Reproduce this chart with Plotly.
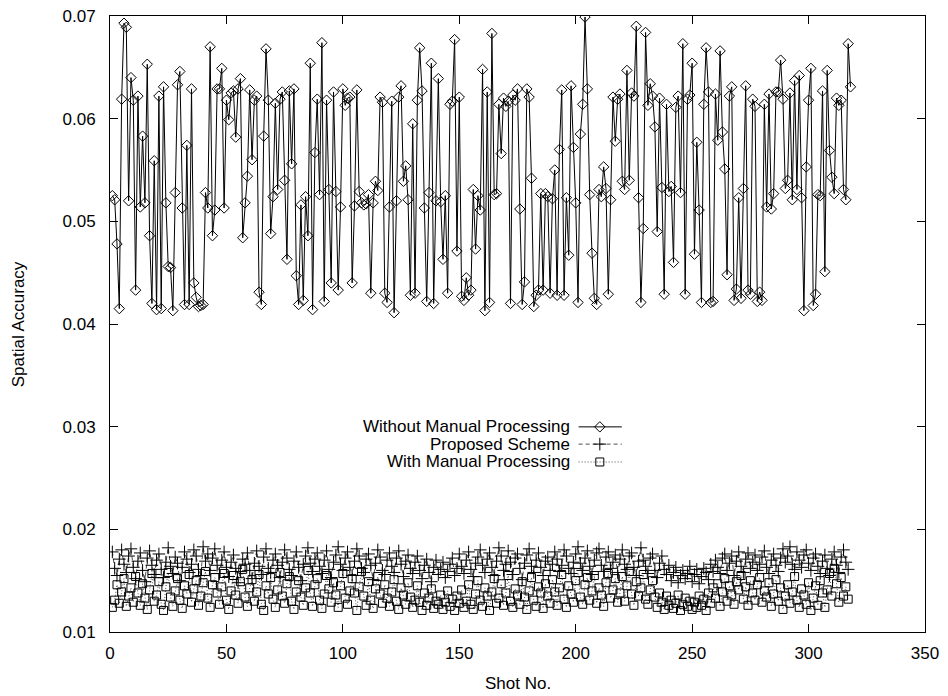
import plotly.graph_objects as go

# ---------------- data ----------------
without_manual = [
    0.0525, 0.0521, 0.0478, 0.0415, 0.0619, 0.0693, 0.0689, 0.0520, 0.0640, 0.0618,
    0.0433, 0.0622, 0.0514, 0.0583, 0.0518, 0.0653, 0.0486, 0.0420, 0.0559, 0.0414,
    0.0622, 0.0415, 0.0631, 0.0518, 0.0456, 0.0455, 0.0413, 0.0528, 0.0633, 0.0646,
    0.0513, 0.0419, 0.0574, 0.0419, 0.0629, 0.0440, 0.0426, 0.0417, 0.0418, 0.0419,
    0.0528, 0.0513, 0.0670, 0.0486, 0.0511, 0.0629, 0.0629, 0.0649, 0.0513, 0.0618,
    0.0599, 0.0625, 0.0627, 0.0582, 0.0629, 0.0639, 0.0484, 0.0518, 0.0544, 0.0628,
    0.0560, 0.0618, 0.0622, 0.0431,
    0.0419, 0.0583, 0.0668, 0.0618, 0.0488, 0.0524, 0.0615, 0.0531, 0.0619, 0.0626,
    0.0540, 0.0463, 0.0627, 0.0556, 0.0629, 0.0447, 0.0419, 0.0516, 0.0423, 0.0524,
    0.0486, 0.0654, 0.0414, 0.0567, 0.0619, 0.0526, 0.0674, 0.0422, 0.0618, 0.0531,
    0.0440, 0.0626, 0.0529, 0.0433, 0.0514, 0.0629, 0.0613, 0.0620, 0.0621, 0.0440,
    0.0515, 0.0628, 0.0529, 0.0518, 0.0516, 0.0517, 0.0526, 0.0430, 0.0518, 0.0539,
    0.0530, 0.0621, 0.0616, 0.0430, 0.0421, 0.0514, 0.0617, 0.0411, 0.0520, 0.0621,
    0.0632, 0.0539, 0.0554, 0.0521, 0.0428, 0.0595, 0.0430, 0.0618, 0.0669, 0.0627,
    0.0513, 0.0422, 0.0528, 0.0654, 0.0420, 0.0520, 0.0639, 0.0519, 0.0463, 0.0525,
    0.0430, 0.0614, 0.0617, 0.0677, 0.0471, 0.0621, 0.0427, 0.0423, 0.0445, 0.0428,
    0.0433, 0.0531, 0.0473, 0.0525, 0.0511, 0.0648, 0.0413, 0.0626, 0.0421, 0.0683,
    0.0526, 0.0527, 0.0614,
    0.0566, 0.0620, 0.0612, 0.0617, 0.0420, 0.0623, 0.0618, 0.0629, 0.0512, 0.0419,
    0.0441, 0.0629, 0.0621, 0.0542, 0.0417, 0.0428, 0.0433, 0.0527, 0.0433, 0.0527,
    0.0524, 0.0430, 0.0522, 0.0550, 0.0428, 0.0570, 0.0628, 0.0428, 0.0523, 0.0467,
    0.0632, 0.0572, 0.0518, 0.0421, 0.0585, 0.0614, 0.0699, 0.0629, 0.0526, 0.0469,
    0.0425, 0.0419, 0.0531, 0.0524, 0.0553, 0.0532, 0.0429, 0.0521, 0.0621, 0.0578,
    0.0619, 0.0624, 0.0539, 0.0531, 0.0647, 0.0540, 0.0625, 0.0622, 0.0690, 0.0523,
    0.0421, 0.0493, 0.0684, 0.0613, 0.0634, 0.0622, 0.0592, 0.0490, 0.0620, 0.0533,
    0.0429, 0.0614, 0.0529, 0.0534, 0.0460, 0.0611, 0.0622, 0.0528, 0.0673, 0.0429,
    0.0619, 0.0623, 0.0654, 0.0468, 0.0577, 0.0511, 0.0421, 0.0614, 0.0669, 0.0626,
    0.0421, 0.0422, 0.0624, 0.0579, 0.0666, 0.0587, 0.0551, 0.0448, 0.0622, 0.0631,
    0.0423,
    0.0434, 0.0523, 0.0425, 0.0532, 0.0632, 0.0433, 0.0429, 0.0619, 0.0612, 0.0422,
    0.0431, 0.0423, 0.0614, 0.0514, 0.0624, 0.0512, 0.0527, 0.0626, 0.0626, 0.0657,
    0.0619, 0.0532, 0.0540, 0.0625, 0.0521, 0.0637, 0.0531, 0.0642, 0.0523, 0.0413,
    0.0553, 0.0618, 0.0649, 0.0418, 0.0429, 0.0526, 0.0525, 0.0627, 0.0451, 0.0647,
    0.0569, 0.0543, 0.0527, 0.0620, 0.0613, 0.0618, 0.0531, 0.0521, 0.0673, 0.0631,
]

proposed = [
    0.0178, 0.0162, 0.0155, 0.0171, 0.0180, 0.0166, 0.0158, 0.0174, 0.0181, 0.0163,
    0.0152, 0.0169, 0.0177, 0.0160, 0.0149, 0.0172, 0.0179, 0.0165, 0.0156, 0.0170,
    0.0176, 0.0161, 0.0153, 0.0168, 0.0182, 0.0164, 0.0157, 0.0173, 0.0167, 0.0150,
    0.0163, 0.0178, 0.0171, 0.0158, 0.0166, 0.0180, 0.0174, 0.0161, 0.0155, 0.0183,
    0.0169, 0.0176, 0.0160, 0.0172, 0.0181, 0.0165, 0.0157, 0.0170, 0.0178, 0.0163,
    0.0154, 0.0168, 0.0175, 0.0162, 0.0148, 0.0159, 0.0171, 0.0166, 0.0177, 0.0160,
    0.0152, 0.0167, 0.0179, 0.0164, 0.0156, 0.0173, 0.0181, 0.0162, 0.0158, 0.0170,
    0.0176, 0.0165, 0.0153, 0.0168, 0.0180, 0.0172, 0.0161, 0.0155, 0.0169, 0.0178,
    0.0163, 0.0150, 0.0166, 0.0174, 0.0182, 0.0167, 0.0159, 0.0171, 0.0177, 0.0164,
    0.0157, 0.0170, 0.0179, 0.0161, 0.0153, 0.0168, 0.0175, 0.0183, 0.0166, 0.0160,
    0.0172, 0.0178, 0.0163, 0.0155, 0.0169, 0.0181, 0.0174, 0.0162, 0.0158, 0.0171,
    0.0176, 0.0165, 0.0151, 0.0167, 0.0180, 0.0173, 0.0160, 0.0156, 0.0170, 0.0177,
    0.0164, 0.0158, 0.0172, 0.0179, 0.0166, 0.0154, 0.0169, 0.0175, 0.0162, 0.0157,
    0.0168, 0.0174, 0.0160, 0.0152, 0.0165, 0.0171, 0.0158, 0.0149, 0.0163, 0.0170,
    0.0156, 0.0161, 0.0168, 0.0153, 0.0159, 0.0166, 0.0172, 0.0155, 0.0162, 0.0176,
    0.0164, 0.0157, 0.0170, 0.0178, 0.0161, 0.0154, 0.0167, 0.0173, 0.0180, 0.0165,
    0.0158, 0.0171, 0.0177, 0.0163, 0.0155, 0.0169, 0.0182, 0.0174, 0.0160, 0.0166,
    0.0179, 0.0168, 0.0156, 0.0172, 0.0176, 0.0162, 0.0151, 0.0167, 0.0175, 0.0181,
    0.0164, 0.0158, 0.0170, 0.0177, 0.0163, 0.0155, 0.0169, 0.0173, 0.0160, 0.0166,
    0.0178, 0.0171, 0.0159, 0.0165, 0.0180, 0.0174, 0.0162, 0.0157, 0.0168, 0.0176,
    0.0183, 0.0167, 0.0160, 0.0172, 0.0179, 0.0164, 0.0156, 0.0170, 0.0177, 0.0181,
    0.0165, 0.0159, 0.0173, 0.0178, 0.0162, 0.0168, 0.0175, 0.0158, 0.0171, 0.0180,
    0.0166, 0.0161, 0.0174, 0.0177, 0.0163, 0.0155, 0.0169, 0.0182, 0.0170, 0.0164,
    0.0157, 0.0172, 0.0176, 0.0160, 0.0153, 0.0167, 0.0174, 0.0161, 0.0156, 0.0165,
    0.0150, 0.0158, 0.0163, 0.0148, 0.0155, 0.0160, 0.0152, 0.0157, 0.0164, 0.0149,
    0.0156, 0.0161, 0.0147, 0.0154, 0.0162, 0.0158, 0.0151, 0.0166, 0.0159, 0.0170,
    0.0163, 0.0157, 0.0172, 0.0176, 0.0160, 0.0167, 0.0174, 0.0155, 0.0169, 0.0178,
    0.0164, 0.0158, 0.0171, 0.0177, 0.0162, 0.0168, 0.0175, 0.0160, 0.0166, 0.0173,
    0.0179, 0.0163, 0.0157, 0.0170, 0.0176, 0.0165, 0.0159, 0.0172, 0.0181, 0.0168,
    0.0174, 0.0183, 0.0166, 0.0161, 0.0178, 0.0170, 0.0163, 0.0175, 0.0180, 0.0167,
    0.0160, 0.0172, 0.0176, 0.0164, 0.0157, 0.0169, 0.0175, 0.0162, 0.0155, 0.0171,
    0.0178, 0.0165, 0.0158, 0.0173, 0.0180, 0.0168, 0.0161,
]

with_manual = [
    0.0124, 0.0131, 0.0146, 0.0128, 0.0139, 0.0152, 0.0125, 0.0135, 0.0143, 0.0129,
    0.0154, 0.0138, 0.0126, 0.0147, 0.0133, 0.0122, 0.0141, 0.0157, 0.0130, 0.0136,
    0.0149, 0.0127, 0.0121, 0.0144, 0.0158, 0.0134, 0.0125, 0.0140, 0.0152, 0.0131,
    0.0123, 0.0145, 0.0137, 0.0156, 0.0129, 0.0142, 0.0150, 0.0126, 0.0135, 0.0148,
    0.0159, 0.0133, 0.0124, 0.0146, 0.0153, 0.0138, 0.0127, 0.0144, 0.0157, 0.0131,
    0.0122, 0.0140, 0.0155, 0.0136, 0.0128, 0.0149, 0.0161, 0.0134, 0.0125, 0.0143,
    0.0151, 0.0130, 0.0139, 0.0156, 0.0127, 0.0121, 0.0145, 0.0137, 0.0153, 0.0132,
    0.0124, 0.0141, 0.0158, 0.0135, 0.0128, 0.0147, 0.0154, 0.0130, 0.0122, 0.0139,
    0.0150, 0.0134, 0.0126, 0.0143, 0.0160, 0.0138, 0.0125, 0.0146, 0.0152, 0.0131,
    0.0123, 0.0137, 0.0155, 0.0142, 0.0129, 0.0148, 0.0136, 0.0124, 0.0145, 0.0157,
    0.0133, 0.0127, 0.0140, 0.0152, 0.0138, 0.0121, 0.0144, 0.0159, 0.0135, 0.0126,
    0.0149, 0.0131, 0.0123, 0.0142, 0.0154, 0.0137, 0.0128, 0.0146, 0.0133, 0.0125,
    0.0139, 0.0151, 0.0130, 0.0122, 0.0143, 0.0136, 0.0127, 0.0148, 0.0134, 0.0124,
    0.0131, 0.0145, 0.0129, 0.0121, 0.0138, 0.0126, 0.0133, 0.0142, 0.0123, 0.0130,
    0.0127, 0.0136, 0.0122, 0.0129, 0.0140, 0.0125, 0.0132, 0.0121, 0.0135, 0.0128,
    0.0141, 0.0124, 0.0130, 0.0146, 0.0127, 0.0122, 0.0137, 0.0150, 0.0131, 0.0125,
    0.0143, 0.0135, 0.0121, 0.0139, 0.0152, 0.0128, 0.0133, 0.0147, 0.0126, 0.0138,
    0.0155, 0.0130, 0.0124, 0.0142, 0.0136, 0.0127, 0.0149, 0.0134, 0.0122, 0.0140,
    0.0153, 0.0131, 0.0125, 0.0144, 0.0138, 0.0123, 0.0147, 0.0135, 0.0128, 0.0151,
    0.0139, 0.0126, 0.0143, 0.0156, 0.0132, 0.0124, 0.0145, 0.0137, 0.0129, 0.0150,
    0.0158, 0.0134, 0.0127, 0.0146, 0.0153, 0.0131, 0.0140, 0.0155, 0.0128, 0.0143,
    0.0136, 0.0125, 0.0148, 0.0157, 0.0133, 0.0141, 0.0152, 0.0129, 0.0138, 0.0154,
    0.0130, 0.0145, 0.0159, 0.0137, 0.0126, 0.0149, 0.0135, 0.0143, 0.0156, 0.0132,
    0.0127, 0.0141, 0.0150, 0.0134, 0.0124, 0.0138, 0.0129, 0.0122, 0.0135, 0.0126,
    0.0131, 0.0123, 0.0128, 0.0136, 0.0121, 0.0127, 0.0133, 0.0125, 0.0130, 0.0122,
    0.0129, 0.0124, 0.0135, 0.0126, 0.0132, 0.0121, 0.0138, 0.0128, 0.0143, 0.0133,
    0.0147, 0.0125, 0.0139, 0.0152, 0.0130, 0.0145, 0.0136, 0.0127, 0.0149, 0.0141,
    0.0155, 0.0132, 0.0144, 0.0126, 0.0150, 0.0138, 0.0131, 0.0146, 0.0153, 0.0129,
    0.0140, 0.0134, 0.0148, 0.0125, 0.0137, 0.0151, 0.0130, 0.0143, 0.0122, 0.0135,
    0.0146, 0.0128, 0.0139, 0.0154, 0.0131, 0.0124, 0.0142, 0.0136, 0.0127, 0.0148,
    0.0121, 0.0133, 0.0145, 0.0126, 0.0150, 0.0138, 0.0124, 0.0141, 0.0157, 0.0135,
    0.0162, 0.0147, 0.0129, 0.0153, 0.0135, 0.0144, 0.0132,
]

series_names = ["Without Manual Processing", "Proposed Scheme", "With Manual Processing"]
x_ticks = [0, 50, 100, 150, 200, 250, 300, 350]
y_ticks = [0.01, 0.02, 0.03, 0.04, 0.05, 0.06, 0.07]

shots_a = list(range(1, len(without_manual) + 1))
shots_b = list(range(1, len(proposed) + 1))
shots_c = list(range(1, len(with_manual) + 1))

FONT = "Liberation Sans, Arial, Helvetica, sans-serif"
BLACK = "#000000"

fig = go.Figure()

fig.add_trace(go.Scatter(
    x=shots_a, y=without_manual, mode="lines+markers", name=series_names[0],
    line=dict(color=BLACK, width=1),
    marker=dict(symbol="diamond-open", size=8, color=BLACK, line=dict(width=1, color=BLACK)),
    showlegend=False,
))
fig.add_trace(go.Scatter(
    x=shots_b, y=proposed, mode="lines+markers", name=series_names[1],
    line=dict(color=BLACK, width=0.7, dash="4px,3px"),
    marker=dict(symbol="cross-thin", size=9, color=BLACK, line=dict(width=1, color=BLACK)),
    showlegend=False,
))
fig.add_trace(go.Scatter(
    x=shots_c, y=with_manual, mode="lines+markers", name=series_names[2],
    line=dict(color=BLACK, width=0.7, dash="1px,2px"),
    marker=dict(symbol="square-open", size=8, color=BLACK, line=dict(width=1, color=BLACK)),
    showlegend=False,
))

# ---- gnuplot-style key (text left, sample right) drawn on an overlay axis ----
key_rows = [0.333, 0.305, 0.276]
key_x0, key_x1, key_xm, key_text_x = 0.575, 0.628, 0.601, 0.567
key_styles = [
    (dict(color=BLACK, width=1), dict(symbol="diamond-open", size=8)),
    (dict(color=BLACK, width=0.7, dash="4px,3px"), dict(symbol="cross-thin", size=9)),
    (dict(color=BLACK, width=0.7, dash="1px,2px"), dict(symbol="square-open", size=8)),
]
for name, yk, (ln, mk) in zip(series_names, key_rows, key_styles):
    fig.add_trace(go.Scatter(
        x=[key_x0, key_x1], y=[yk, yk], mode="lines", line=ln,
        xaxis="x2", yaxis="y2", showlegend=False, hoverinfo="skip",
    ))
    fig.add_trace(go.Scatter(
        x=[key_xm], y=[yk], mode="markers",
        marker=dict(color=BLACK, line=dict(width=1, color=BLACK), **mk),
        xaxis="x2", yaxis="y2", showlegend=False, hoverinfo="skip",
    ))
    fig.add_annotation(
        x=key_text_x, y=yk, xref="x2", yref="y2", text=name, showarrow=False,
        xanchor="right", yanchor="middle", font=dict(family=FONT, size=17, color=BLACK),
    )

axis_common = dict(
    showline=True, linecolor=BLACK, linewidth=1, mirror="ticks",
    ticks="inside", ticklen=8, tickwidth=1, tickcolor=BLACK,
    showgrid=False, zeroline=False, automargin=False,
    ticklabeloverflow="allow",
    tickfont=dict(family=FONT, size=17, color=BLACK),
)

# the page body has an 8px margin, so the figure is 8px smaller and shifted
fig.update_layout(
    width=940, height=688, autosize=False,
    margin=dict(l=102, r=23, t=8, b=64),
    paper_bgcolor="white", plot_bgcolor="white",
    xaxis=dict(range=[0, 350], tickvals=x_ticks, ticklabelstandoff=6, **axis_common),
    yaxis=dict(range=[0.01, 0.07], tickvals=y_ticks, tickformat=".2f",
               ticklabelstandoff=10, **axis_common),
    xaxis2=dict(overlaying="x", range=[0, 1], visible=False),
    yaxis2=dict(overlaying="y", range=[0, 1], visible=False),
    showlegend=False,
)

fig.add_annotation(
    x=0.5, y=-0.083, xref="paper", yref="paper", text="Shot No.", showarrow=False,
    xanchor="center", yanchor="middle", font=dict(family=FONT, size=17, color=BLACK),
)
fig.add_annotation(
    x=-0.1125, y=0.5, xref="paper", yref="paper", text="Spatial Accuracy", showarrow=False,
    textangle=-90, xanchor="center", yanchor="middle", font=dict(family=FONT, size=17, color=BLACK),
)

fig.write_html("out.html")
